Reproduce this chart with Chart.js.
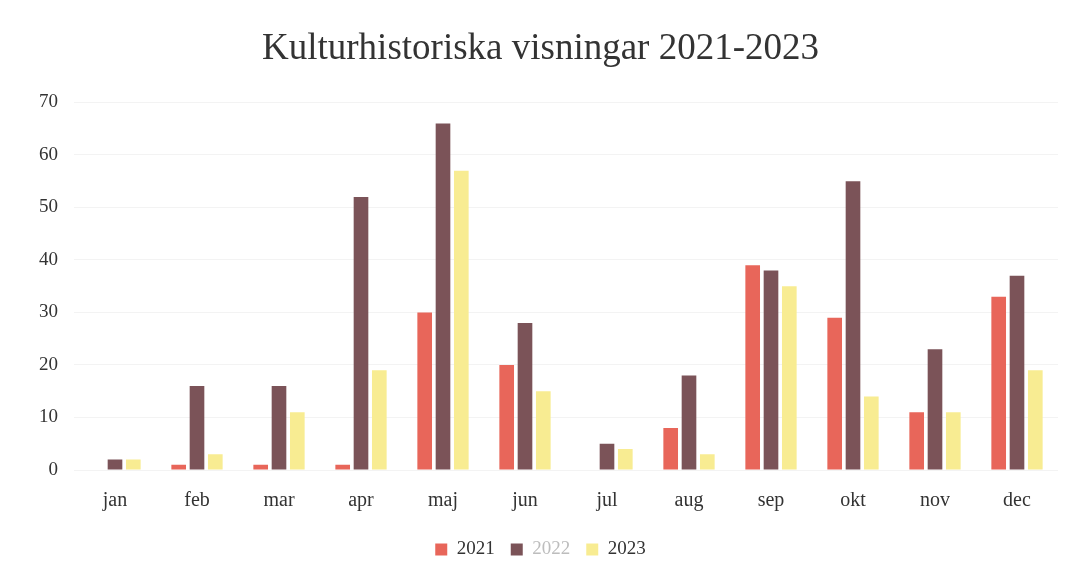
<!DOCTYPE html>
<html>
<head>
<meta charset="utf-8">
<script src="https://cdn.jsdelivr.net/npm/chart.js@4/dist/chart.umd.min.js"></script>
<style>
html,body{margin:0;padding:0;background:#fff;}
#wrap{width:1080px;height:572px;}
</style>
</head>
<body>
<div id="wrap"><canvas id="c" width="1080" height="572"></canvas></div>
<script>
const months = ['jan','feb','mar','apr','maj','jun','jul','aug','sep','okt','nov','dec'];
const v2021 = [0, 1, 1, 1, 30, 20, 0, 8, 39, 29, 11, 33];
const v2022 = [2, 16, 16, 52, 66, 28, 5, 18, 38, 55, 23, 37];
const v2023 = [2, 3, 11, 19, 57, 15, 4, 3, 35, 14, 11, 19];
const seriesNames = ['2021','2022','2023'];
const colors = ['#e8665a','#7b5358','#f8ec92'];
const legendTextColors = ['#333333','#bdbdbd','#333333'];

const FONT = "'Liberation Serif', 'DejaVu Serif', serif";

new Chart(document.getElementById('c'), {
  type: 'bar',
  data: {
    labels: months,
    datasets: [v2021, v2022, v2023].map((d, i) => ({
      label: seriesNames[i],
      data: d,
      backgroundColor: colors[i],
      borderWidth: 0,
      barPercentage: 0.8,
      categoryPercentage: 0.67
    }))
  },
  options: {
    responsive: false,
    animation: false,
    layout: { padding: { left: 23, right: 22, top: 27, bottom: 3 } },
    plugins: {
      title: {
        display: true,
        text: 'Kulturhistoriska visningar 2021-2023',
        color: '#333',
        font: { family: FONT, size: 37, weight: 'normal' },
        padding: { top: 0, bottom: 31 }
      },
      legend: {
        position: 'bottom',
        labels: {
          font: { family: FONT, size: 19 },
          boxWidth: 12,
          boxHeight: 12,
          padding: 16,
          generateLabels: (chart) => chart.data.datasets.map((ds, i) => ({
            text: ds.label,
            fillStyle: ds.backgroundColor,
            strokeStyle: ds.backgroundColor,
            lineWidth: 0,
            fontColor: legendTextColors[i],
            hidden: false,
            datasetIndex: i
          }))
        }
      },
      tooltip: { enabled: false }
    },
    scales: {
      x: {
        grid: { display: false },
        border: { display: false },
        ticks: { color: '#333', font: { family: FONT, size: 20 }, padding: 11 }
      },
      y: {
        min: 0, max: 70,
        ticks: { stepSize: 10, color: '#333', font: { family: FONT, size: 19 }, padding: 16 },
        grid: { color: '#f3f3f3', drawTicks: false },
        border: { display: false }
      }
    }
  }
});
</script>
</body>
</html>
